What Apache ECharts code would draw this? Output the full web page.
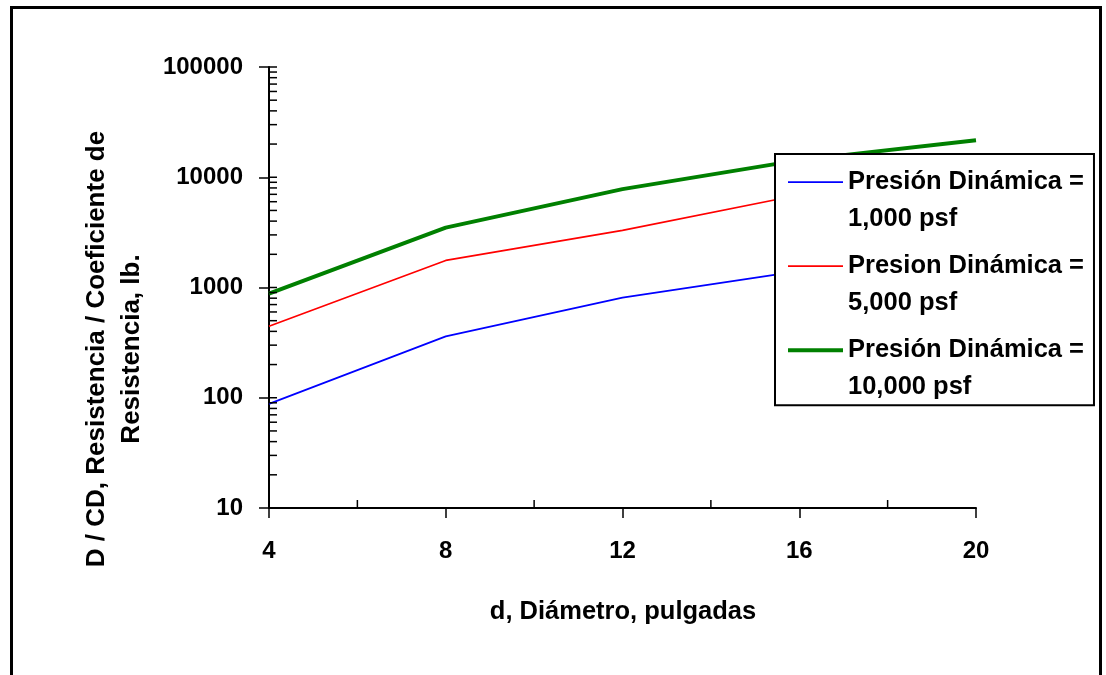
<!DOCTYPE html>
<html>
<head>
<meta charset="utf-8">
<script src="https://cdn.jsdelivr.net/npm/echarts@6/dist/echarts.min.js"></script>
<style>
  html, body { margin: 0; padding: 0; background: #fff; }
  #chart { width: 1106px; height: 675px; }
</style>
</head>
<body>
<div id="chart"></div>
<script>
// Diameter (inches) on the x axis
const diameters = [4, 8, 12, 16, 20];
// Drag / drag coefficient (lb.) for each dynamic pressure
const drag1000 = [88, 360, 810, 1410, 2200];
const drag5000 = [445, 1760, 3300, 6900, 10800];
const drag10000 = [880, 3490, 7800, 14300, 21700];
const seriesNames = [
  'Presión Dinámica =\n1,000 psf',
  'Presion Dinámica =\n5,000 psf',
  'Presión Dinámica =\n10,000 psf'
];
const seriesColors = ['#0000ff', '#ff0000', '#008000'];
const seriesWidths = [1.7, 1.7, 4];
// Axis ranges and tick positions
const xMin = 4, xMax = 20, xStep = 4;
const xMinorTicks = [6, 10, 14, 18];
const yMin = 10, yMax = 100000;
const yDecades = [10, 100, 1000, 10000];

const FONT = "'Liberation Sans', Arial, Helvetica, sans-serif";

// log-scale minor tick values (2..9 in each decade) plus the decades themselves
const yTickValues = [];
yDecades.forEach(d => { for (let m = 1; m <= 9; m++) yTickValues.push(m * d); });
yTickValues.push(yMax);

const pairs = ys => diameters.map((x, i) => [x, ys[i]]);
const lineSeries = (i, values) => ({
  name: seriesNames[i], type: 'line', data: pairs(values), symbol: 'none',
  lineStyle: { color: seriesColors[i], width: seriesWidths[i] },
  itemStyle: { color: seriesColors[i] }
});

const chart = echarts.init(document.getElementById('chart'), null, { renderer: 'canvas' });

chart.setOption({
  animation: false,
  backgroundColor: '#fff',
  grid: { left: 269, right: 130, top: 67, bottom: 167 },
  xAxis: {
    type: 'value', min: xMin, max: xMax, interval: xStep,
    axisLine: { show: true, onZero: false, lineStyle: { color: '#000', width: 2 } },
    axisTick: { show: true, inside: false, length: 10, lineStyle: { color: '#000', width: 1.5 } },
    axisLabel: { margin: 31, color: '#000', fontFamily: FONT, fontWeight: 'bold', fontSize: 24 },
    splitLine: { show: false }
  },
  yAxis: {
    type: 'log', logBase: 10, min: yMin, max: yMax,
    axisLine: { show: true, onZero: false, lineStyle: { color: '#000', width: 2 } },
    axisTick: { show: true, inside: false, length: 10, lineStyle: { color: '#000', width: 1.5 } },
    axisLabel: {
      margin: 26, color: '#000', fontFamily: FONT, fontWeight: 'bold', fontSize: 24,
      formatter: v => String(Math.round(v))
    },
    splitLine: { show: false }
  },
  legend: {
    orient: 'vertical',
    left: 775, top: 154,
    data: seriesNames.map((name, i) => ({
      name,
      lineStyle: { color: seriesColors[i], width: seriesWidths[i] }
    })),
    // a leading blank line keeps the sample line level with the first text line
    formatter: name => '\n' + name,
    backgroundColor: '#fff',
    borderColor: '#000', borderWidth: 2, borderRadius: 0,
    padding: [-27, 10, 0, 11],
    itemWidth: 55, itemHeight: 14, itemGap: -26,
    itemStyle: { opacity: 0 },
    textStyle: {
      color: '#000', fontFamily: FONT, fontWeight: 'bold', fontSize: 25.5,
      lineHeight: 36.7
    },
    z: 10
  },
  series: [
    lineSeries(0, drag1000),
    lineSeries(1, drag5000),
    lineSeries(2, drag10000),
    {
      // inner tick marks on the log axis
      type: 'custom', silent: true, clip: false, z: 5,
      data: yTickValues.map(v => [xMin, v]),
      encode: { x: 0, y: 1 },
      renderItem: (params, api) => {
        const p = api.coord([api.value(0), api.value(1)]);
        return { type: 'line', shape: { x1: p[0], y1: p[1], x2: p[0] + 8, y2: p[1] },
          style: { stroke: '#000', lineWidth: 1.5 } };
      }
    },
    {
      // inner minor tick marks on the diameter axis
      type: 'custom', silent: true, clip: false, z: 5,
      data: xMinorTicks.map(v => [v, yMin]),
      encode: { x: 0, y: 1 },
      renderItem: (params, api) => {
        const p = api.coord([api.value(0), api.value(1)]);
        return { type: 'line', shape: { x1: p[0], y1: p[1], x2: p[0], y2: p[1] - 8 },
          style: { stroke: '#000', lineWidth: 1.5 } };
      }
    }
  ],
  graphic: [
    {
      type: 'rect', silent: true, z: 0,
      shape: { x: 11.5, y: 7.5, width: 1089, height: 700 },
      style: { fill: 'none', stroke: '#000', lineWidth: 3 }
    },
    {
      type: 'text', silent: true,
      x: 114, y: 349, rotation: Math.PI / 2,
      style: {
        text: 'D / CD, Resistencia / Coeficiente de\nResistencia, lb.',
        fill: '#000', fontFamily: FONT, fontWeight: 'bold', fontSize: 26,
        lineHeight: 35, align: 'center', verticalAlign: 'middle'
      }
    },
    {
      type: 'text', silent: true,
      x: 623, y: 612,
      style: {
        text: 'd, Diámetro, pulgadas',
        fill: '#000', fontFamily: FONT, fontWeight: 'bold', fontSize: 25.5,
        align: 'center', verticalAlign: 'middle'
      }
    }
  ]
});
</script>
</body>
</html>
